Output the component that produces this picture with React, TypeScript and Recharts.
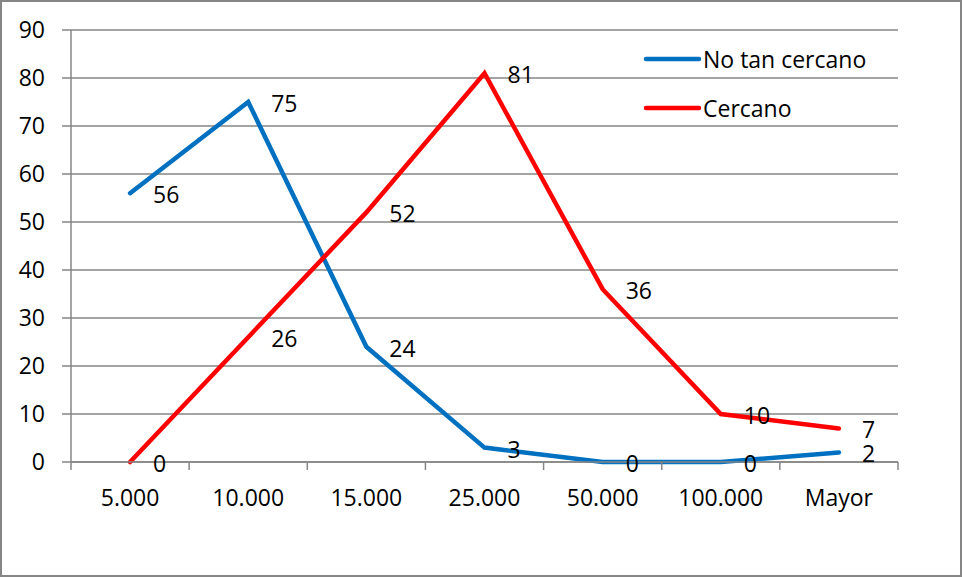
import { LineChart, Line, XAxis, YAxis, CartesianGrid, Legend, LabelList } from "recharts";

const categories = ["5.000", "10.000", "15.000", "25.000", "50.000", "100.000", "Mayor"];
const noTanCercano = [56, 75, 24, 3, 0, 0, 2];
const cercano = [0, 26, 52, 81, 36, 10, 7];
const yTicks = [0, 10, 20, 30, 40, 50, 60, 70, 80, 90];

const data = categories.map((c, i) => ({
  name: c,
  noTan: noTanCercano[i],
  cerca: cercano[i],
}));

const WIDTH = 962;
const HEIGHT = 577;
const X_AXIS_HEIGHT = 30;
const MARGIN = { top: 30, right: 64, bottom: 115 - X_AXIS_HEIGHT, left: 0 };
const Y_AXIS_WIDTH = 71;
const STEP = (WIDTH - MARGIN.left - MARGIN.right - Y_AXIS_WIDTH) / categories.length;

const GRAY = "#868686";
const BLUE = "#0070C0";
const RED = "#FF0000";
const FONT = "'Open Sans', sans-serif";
const FONT_SIZE = 23;

// category labels centred in each band, tick marks on band boundaries
function XTick(props: any) {
  const { x, y, payload, index } = props;
  const left = x - STEP / 2;
  return (
    <g>
      <line x1={left} y1={y} x2={left} y2={y + 8} stroke={GRAY} strokeWidth={1.5} />
      {index === categories.length - 1 && (
        <line x1={x + STEP / 2} y1={y} x2={x + STEP / 2} y2={y + 8} stroke={GRAY} strokeWidth={1.5} />
      )}
      <text x={x} y={y + 35} textAnchor="middle" dominantBaseline="central" fill="#000" fontSize={FONT_SIZE} fontFamily={FONT}>
        {payload.value}
      </text>
    </g>
  );
}

function PointLabel(props: any) {
  const { x, y, value } = props;
  return (
    <text x={x + 23} y={y + 1} textAnchor="start" dominantBaseline="central" fill="#000" fontSize={FONT_SIZE} fontFamily={FONT}>
      {value}
    </text>
  );
}

function LegendBox() {
  const items = [
    { label: "No tan cercano", color: BLUE },
    { label: "Cercano", color: RED },
  ];
  return (
    <div style={{ fontFamily: FONT, fontSize: FONT_SIZE, color: "#000" }}>
      {items.map((it) => (
        <div key={it.label} style={{ display: "flex", alignItems: "center", height: 49 }}>
          <svg width={60} height={10}>
            <line x1={3} y1={5} x2={56} y2={5} stroke={it.color} strokeWidth={4.5} strokeLinecap="round" />
          </svg>
          <span>{it.label}</span>
        </div>
      ))}
    </div>
  );
}

export default function App() {
  return (
    <div
      style={{
        position: "absolute",
        left: 0,
        top: 0,
        width: WIDTH,
        height: HEIGHT,
        boxSizing: "border-box",
        border: `2px solid ${GRAY}`,
        background: "#fff",
        fontFamily: FONT,
      }}
    >
      <div style={{ position: "absolute", left: -2, top: -2 }}>
        <LineChart width={WIDTH} height={HEIGHT} data={data} margin={MARGIN}>
          <CartesianGrid vertical={false} stroke={GRAY} strokeWidth={1.5} />
          <XAxis
            dataKey="name"
            scale="band"
            height={X_AXIS_HEIGHT}
            axisLine={{ stroke: GRAY, strokeWidth: 1.5 }}
            tickLine={false}
            tickSize={0}
            tickMargin={0}
            interval={0}
            tick={<XTick />}
          />
          <YAxis
            width={Y_AXIS_WIDTH}
            domain={[0, 90]}
            ticks={yTicks}
            interval={0}
            axisLine={{ stroke: GRAY, strokeWidth: 1.5 }}
            tickLine={{ stroke: GRAY, strokeWidth: 1.5 }}
            tickSize={9}
            tickMargin={17}
            tick={{ fill: "#000", fontSize: FONT_SIZE, fontFamily: FONT }}
          />
          <Legend
            layout="horizontal"
            verticalAlign="middle"
            align="center"
            content={<LegendBox />}
            wrapperStyle={{ left: 643, top: 34, width: 280 }}
          />
          <Line
            type="linear"
            dataKey="noTan"
            name="No tan cercano"
            stroke={BLUE}
            strokeWidth={4.5}
            strokeLinecap="round"
            dot={false}
            activeDot={false}
            isAnimationActive={false}
          >
            <LabelList dataKey="noTan" content={<PointLabel />} />
          </Line>
          <Line
            type="linear"
            dataKey="cerca"
            name="Cercano"
            stroke={RED}
            strokeWidth={4.5}
            strokeLinecap="round"
            dot={false}
            activeDot={false}
            isAnimationActive={false}
          >
            <LabelList dataKey="cerca" content={<PointLabel />} />
          </Line>
        </LineChart>
      </div>
    </div>
  );
}
